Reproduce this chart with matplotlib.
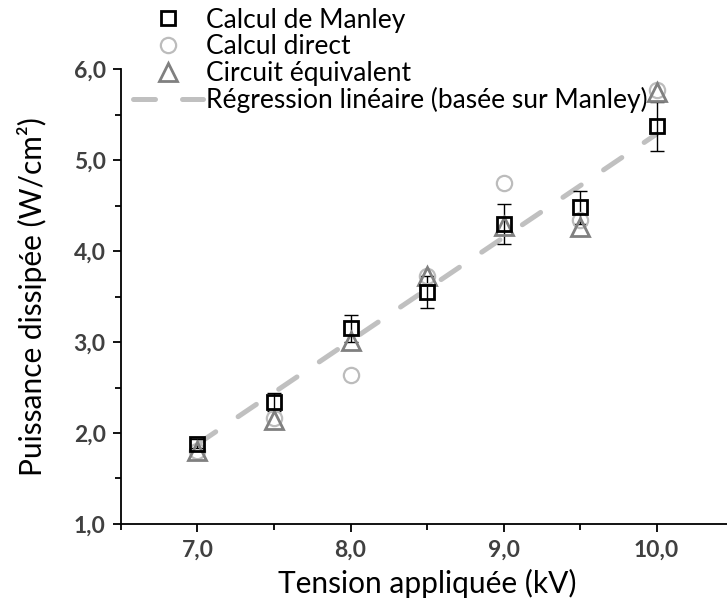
import numpy as np
import matplotlib
matplotlib.use("Agg")
import matplotlib.pyplot as plt
from matplotlib.ticker import MultipleLocator, FuncFormatter

# data
tension = [7.0, 7.5, 8.0, 8.5, 9.0, 9.5, 10.0]
manley = [1.88, 2.34, 3.15, 3.55, 4.30, 4.48, 5.37]
manley_err = [0.05, 0.10, 0.15, 0.18, 0.22, 0.18, 0.27]
direct = [1.80, 2.17, 2.64, 3.72, 4.75, 4.34, 5.77]
circuit = [1.80, 2.14, 3.01, 3.73, 4.27, 4.26, 5.75]

plt.rcParams['font.family'] = ['Lato', 'DejaVu Sans']

fig = plt.figure(figsize=(7.27, 6.05), dpi=100)
ax = fig.add_axes([0.1664, 0.1339, 0.842, 0.752])

# linear fit on Manley values
slope, icpt = np.polyfit(tension, manley, 1)
xfit = np.array([tension[0], tension[-1]])
ax.plot(xfit, slope * xfit + icpt, color='#c0c0c0', lw=3.6, dashes=(4.4, 5.4),
        dash_capstyle='round', label='Régression linéaire (basée sur Manley)', zorder=1)

ax.errorbar(tension, manley, yerr=manley_err, fmt='none', ecolor='black',
            elinewidth=1, capsize=5, capthick=1, zorder=2)
ax.plot(tension, direct, 'o', ms=11, mfc='none', mec='#bcbcbc', mew=1.6,
        label='Calcul direct', zorder=3)
ax.plot(tension, circuit, '^', ms=13, mfc='none', mec='#808080', mew=2,
        label='Circuit équivalent', zorder=4)
ax.plot(tension, manley, 's', ms=10, mfc='none', mec='black', mew=2,
        label='Calcul de Manley', zorder=5)

ax.set_xlim(6.5, 10.5)
ax.set_ylim(1.0, 6.0)
ax.xaxis.set_major_locator(MultipleLocator(1.0))
ax.xaxis.set_minor_locator(MultipleLocator(0.5))
ax.yaxis.set_major_locator(MultipleLocator(1.0))
ax.yaxis.set_minor_locator(MultipleLocator(0.5))
comma = FuncFormatter(lambda v, p: f"{v:.1f}".replace('.', ','))
ax.xaxis.set_major_formatter(comma)
ax.yaxis.set_major_formatter(comma)

for s in ['top', 'right']:
    ax.spines[s].set_visible(False)
for s in ['left', 'bottom']:
    ax.spines[s].set_linewidth(1.3)
ax.tick_params(which='major', direction='out', length=6, width=1.3,
               labelsize=16.5, labelcolor='#404040', pad=5)
ax.tick_params(which='minor', direction='out', length=4, width=1.3)
for lab in ax.get_xticklabels() + ax.get_yticklabels():
    lab.set_fontweight('bold')

ax.set_xlabel('Tension appliquée (kV)', fontsize=21.5, labelpad=6)
ax.set_ylabel('Puissance dissipée (W/cm²)', fontsize=21.5, labelpad=19)

h, l = ax.get_legend_handles_labels()
order = [3, 1, 2, 0]
ax.legend([h[i] for i in order], [l[i] for i in order], loc='upper left',
          bbox_to_anchor=(0.02, 1.135), frameon=False, fontsize=19,
          handlelength=2.65, handletextpad=0.12, labelspacing=0.06,
          borderaxespad=0, borderpad=0)

fig.savefig('out.png', dpi=100)
